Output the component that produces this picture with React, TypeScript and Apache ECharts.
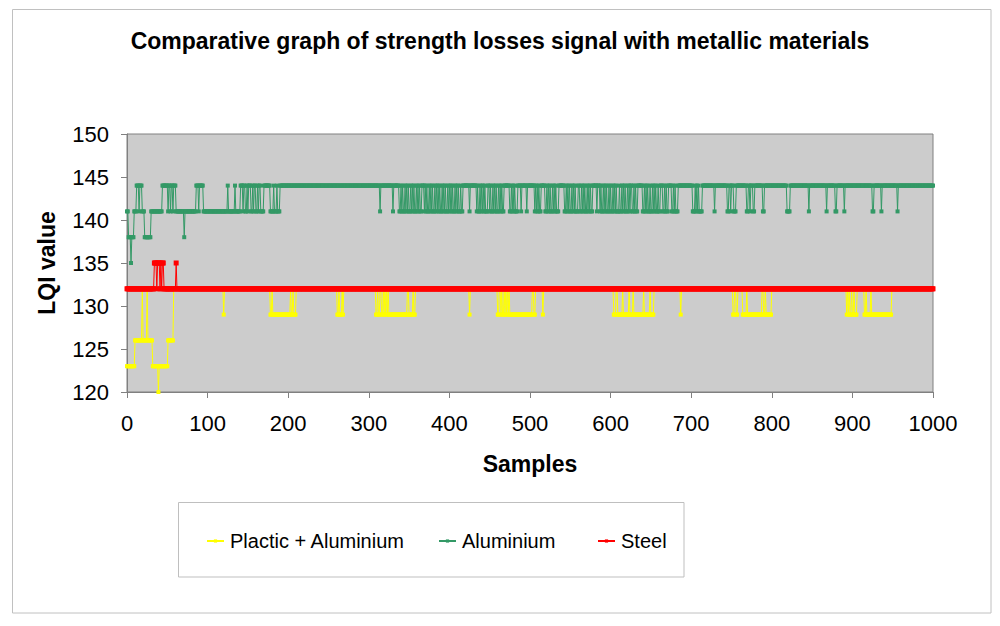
import React, { useEffect, useRef } from "react";
import * as echarts from "echarts";

// ---------- data ----------
const sampleCount = 1001; // samples 0..1000
const seriesNames = ["Plactic + Aluminium", "Aluminium", "Steel"];
const xTicks = [0, 100, 200, 300, 400, 500, 600, 700, 800, 900, 1000];
const yTicks = [120, 125, 130, 135, 140, 145, 150];

// change points: [sample, value] — value holds until next change point
const plasticChanges: [number, number][] = [
  [0, 123], [10, 126], [19, 132], [20, 126], [25, 132], [26, 126], [32, 123],
  [39, 120], [40, 123], [51, 126], [58, 132],
];
// [from, to] sample ranges where Plactic + Aluminium drops to 129
const plasticDipValue = 129;
const plasticDips: [number, number][] = [
  [120, 120], [178, 179], [181, 202], [204, 205], [207, 209], [261, 262], [264, 266],
  [268, 268], [309, 310], [312, 313], [316, 317], [319, 319], [321, 321], [323, 323],
  [325, 347], [350, 354], [356, 357], [425, 425], [460, 461], [464, 464], [466, 467],
  [469, 469], [471, 471], [473, 473], [475, 502], [505, 506], [516, 516], [604, 606],
  [609, 614], [616, 622], [624, 627], [629, 640], [642, 648], [650, 653], [687, 687],
  [752, 753], [756, 757], [764, 768], [770, 787], [790, 791], [793, 799], [893, 893],
  [895, 895], [897, 898], [900, 901], [903, 905], [915, 916], [918, 922], [924, 948],
];

const aluminiumChanges: [number, number][] = [
  [0, 141], [2, 138], [5, 135], [6, 138], [9, 141], [12, 144], [15, 141], [16, 144],
  [19, 141], [22, 138], [30, 141], [44, 144], [51, 141], [52, 144], [54, 141],
  [55, 144], [57, 141], [58, 144], [61, 141], [71, 138], [72, 141], [86, 144],
  [89, 141], [90, 144], [95, 141], [125, 144], [126, 141], [134, 144], [135, 141],
  [141, 144], [144, 141], [145, 144], [147, 141], [149, 144], [150, 141], [151, 144],
  [154, 141], [156, 144], [157, 141], [158, 144], [160, 141], [162, 144], [163, 141],
  [164, 144], [166, 141], [170, 144], [178, 141], [182, 144], [183, 141], [186, 144],
  [187, 141], [190, 144],
];
// [from, to] sample ranges where Aluminium drops to 141
const aluminiumDipValue = 141;
const aluminiumDips: [number, number][] = [
  [314, 314], [330, 330], [338, 339], [341, 341], [343, 344], [346, 346], [348, 348],
  [350, 351], [353, 353], [355, 355], [357, 358], [360, 360], [362, 362], [364, 365],
  [369, 369], [371, 371], [373, 374], [376, 376], [378, 378], [380, 381], [383, 383],
  [385, 385], [387, 387], [389, 390], [392, 392], [394, 394], [396, 397], [399, 399],
  [401, 401], [403, 403], [405, 406], [408, 408], [410, 410], [412, 413], [415, 416],
  [425, 425], [434, 434], [436, 437], [439, 439], [441, 441], [443, 443], [445, 447],
  [450, 450], [452, 453], [455, 455], [457, 457], [459, 460], [462, 462], [464, 464],
  [466, 467], [475, 476], [478, 478], [480, 480], [482, 484], [489, 489], [496, 496],
  [506, 506], [508, 508], [510, 510], [512, 513], [519, 520], [522, 522], [524, 524],
  [526, 527], [529, 529], [531, 531], [533, 535], [543, 544], [546, 546], [548, 548],
  [550, 551], [553, 553], [555, 555], [557, 559], [562, 563], [565, 565], [567, 567],
  [569, 570], [572, 572], [574, 574], [576, 577], [583, 583], [587, 587], [589, 590],
  [592, 592], [594, 594], [596, 597], [599, 599], [601, 602], [604, 604], [606, 606],
  [608, 610], [612, 613], [615, 615], [617, 617], [619, 620], [622, 622], [624, 624],
  [627, 628], [630, 630], [632, 633], [640, 641], [643, 643], [645, 645], [647, 648],
  [650, 651], [653, 653], [655, 655], [657, 658], [660, 661], [665, 666], [668, 668],
  [670, 671], [676, 677], [679, 679], [681, 683], [702, 704], [706, 706], [708, 708],
  [710, 713], [729, 729], [745, 746], [749, 749], [753, 755], [769, 770], [773, 773],
  [777, 778], [789, 790], [819, 822], [846, 846], [868, 868], [879, 880], [890, 890],
  [925, 926], [936, 936], [956, 956],
];

const steelChanges: [number, number][] = [[0, 132]];
// [from, to] sample ranges where Steel rises to 135
const steelPeakValue = 135;
const steelPeaks: [number, number][] = [[34, 36], [38, 40], [42, 42], [44, 45], [61, 61]];

// ---------- decoding (run-length lists -> points) ----------
function decode(changes: [number, number][], ranges: [number, number][], rangeValue: number): number[][] {
  const vals: number[] = [];
  let ci = 0;
  let cur = changes[0][1];
  for (let i = 0; i < sampleCount; i++) {
    while (ci < changes.length && changes[ci][0] <= i) {
      cur = changes[ci][1];
      ci++;
    }
    vals.push(cur);
  }
  ranges.forEach(([a, b]) => {
    for (let i = a; i <= b; i++) vals[i] = rangeValue;
  });
  return vals.map((v, i) => [i, v]);
}

const plasticData = decode(plasticChanges, plasticDips, plasticDipValue);
const aluminiumData = decode(aluminiumChanges, aluminiumDips, aluminiumDipValue);
const steelData = decode(steelChanges, steelPeaks, steelPeakValue);

const FONT = "'Liberation Sans', Arial, sans-serif";
const colors = ["#FFFF00", "#339966", "#FF0000"];
const legendLefts = [206, 438, 597];

export default function App() {
  const ref = useRef<HTMLDivElement>(null);
  useEffect(() => {
    const chart = echarts.init(ref.current!, null, { renderer: "svg" });
    const lineSeries = (name: string, data: number[][], color: string, size: number) => ({
      name,
      type: "line",
      data,
      symbol: "rect",
      symbolSize: size,
      showSymbol: true,
      showAllSymbol: true,
      lineStyle: { color, width: 1 },
      itemStyle: { color, borderWidth: 0 },
      emphasis: { disabled: true },
      silent: true,
    });
    chart.setOption({
      animation: false,
      backgroundColor: "#ffffff",
      textStyle: { fontFamily: FONT },
      title: {
        text: "Comparative graph of strength losses signal with metallic materials",
        left: "center",
        top: 29,
        padding: 0,
        textStyle: { fontFamily: FONT, fontSize: 23, fontWeight: "bold", color: "#000" },
      },
      grid: {
        left: 127,
        top: 134,
        width: 806,
        height: 258,
        show: true,
        backgroundColor: "#CCCCCC",
        borderColor: "#808080",
        borderWidth: 1,
        containLabel: false,
      },
      xAxis: {
        type: "value",
        min: xTicks[0],
        max: xTicks[xTicks.length - 1],
        interval: 100,
        name: "Samples",
        nameLocation: "middle",
        nameGap: 60,
        nameTextStyle: { fontFamily: FONT, fontSize: 23, fontWeight: "bold", color: "#000" },
        axisLine: { show: true, lineStyle: { color: "#808080", width: 1 } },
        axisTick: { show: true, length: 6, lineStyle: { color: "#808080" } },
        axisLabel: { fontFamily: FONT, fontSize: 22, color: "#000", margin: 20, formatter: (v: number) => String(v) },
        splitLine: { show: false },
      },
      yAxis: {
        type: "value",
        min: yTicks[0],
        max: yTicks[yTicks.length - 1],
        interval: 5,
        name: "LQI value",
        nameLocation: "middle",
        nameGap: 69,
        nameRotate: 90,
        nameTextStyle: { fontFamily: FONT, fontSize: 23, fontWeight: "bold", color: "#000" },
        axisLine: { show: true, lineStyle: { color: "#808080", width: 1 } },
        axisTick: { show: true, length: 6, lineStyle: { color: "#808080" } },
        axisLabel: { fontFamily: FONT, fontSize: 22, color: "#000", margin: 18, formatter: (v: number) => String(v) },
        splitLine: { show: false },
      },
      legend: seriesNames.map((name, i) => ({
        data: [name],
        left: legendLefts[i],
        top: 531,
        padding: 0,
        itemWidth: 17,
        itemHeight: 4,
        textStyle: { fontFamily: FONT, fontSize: 20, color: "#000", padding: [0, 0, 0, 1] },
      })),
      graphic: [
        {
          type: "rect",
          shape: { x: 12.5, y: 9.5, width: 978.5, height: 603.5 },
          style: { fill: "none", stroke: "#C0C0C0", lineWidth: 1 },
          silent: true,
          z: -10,
        },
        {
          type: "rect",
          shape: { x: 178.5, y: 502.5, width: 505.5, height: 74.5 },
          style: { fill: "none", stroke: "#BFBFBF", lineWidth: 1 },
          silent: true,
        },
      ],
      series: [
        lineSeries(seriesNames[0], plasticData, colors[0], 4),
        lineSeries(seriesNames[1], aluminiumData, colors[1], 4),
        lineSeries(seriesNames[2], steelData, colors[2], 5),
      ],
    });
    return () => chart.dispose();
  }, []);
  return (
    <div
      ref={ref}
      style={{ position: "fixed", left: 0, top: 0, width: 1000, height: 626, background: "#fff" }}
    />
  );
}
